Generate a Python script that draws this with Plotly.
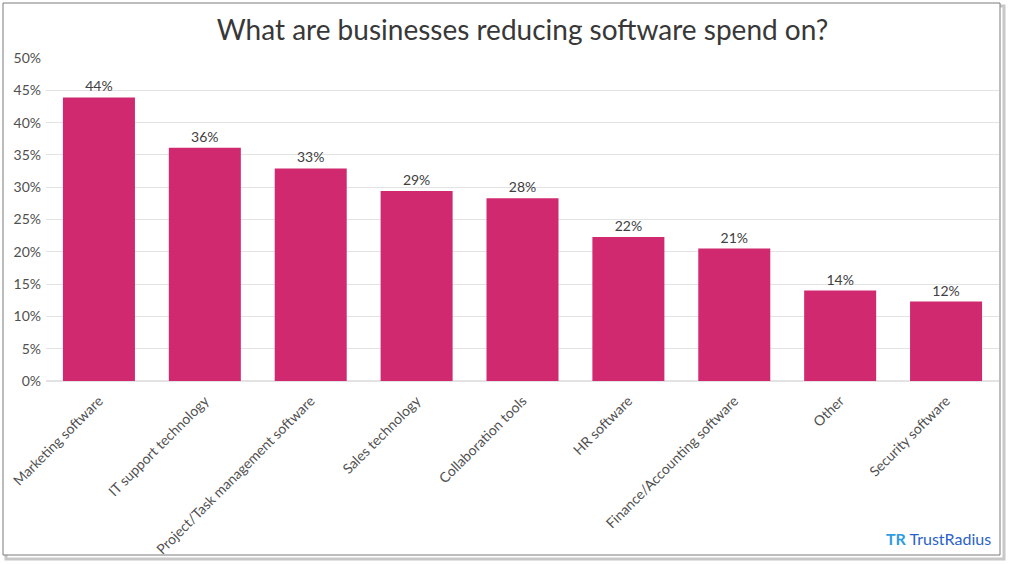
import plotly.graph_objects as go

categories = ["Marketing software", "IT support technology", "Project/Task management software",
              "Sales technology", "Collaboration tools", "HR software",
              "Finance/Accounting software", "Other", "Security software"]
values = [43.9, 36.1, 32.9, 29.4, 28.3, 22.3, 20.5, 14.0, 12.3]
labels = ["44%", "36%", "33%", "29%", "28%", "22%", "21%", "14%", "12%"]
tick_vals = [0, 5, 10, 15, 20, 25, 30, 35, 40, 45, 50]
tick_text = ["0%", "5%", "10%", "15%", "20%", "25%", "30%", "35%", "40%", "45%", "50%"]

W, H = 1009, 564
L, R, T, B = 46, 10, 58, 183
pw, ph = W - L - R, H - T - B

def px(x):
    return (x - L) / pw

def py(y):
    return (H - B - y) / ph

fig = go.Figure()
fig.add_trace(go.Bar(
    x=categories, y=values, text=labels, textposition="outside",
    marker=dict(color="#d0296f", line=dict(width=0)),
    textfont=dict(family="Lato", size=14, color="#404040"),
    cliponaxis=False,
))

fig.update_layout(
    width=W, height=H,
    margin=dict(l=L, r=R, t=T, b=B, autoexpand=False),
    paper_bgcolor="white", plot_bgcolor="white",
    bargap=0.32,
    showlegend=False,
    title=dict(text="What are businesses reducing software spend on?",
               x=0.5, xref="paper", xanchor="center", y=1 - 30 / H, yanchor="middle",
               font=dict(family="Lato", size=28, color="#383838")),
    xaxis=dict(tickangle=-45, tickfont=dict(family="Lato", size=14, color="#505050"),
               showgrid=False, showline=False, ticks="", ticklabelstandoff=8, automargin=False),
    yaxis=dict(range=[0, 50], tickvals=tick_vals, ticktext=tick_text,
               tickfont=dict(family="Lato", size=14, color="#505050"),
               gridcolor="#e3e3e3", gridwidth=1, zeroline=True, zerolinecolor="#e3e3e3",
               showline=False, ticks="", ticklabelstandoff=4, automargin=False),
    font=dict(family="Lato"),
)

# frame with shadow
fig.add_shape(type="rect", xref="paper", yref="paper",
              x0=px(6), x1=px(1004), y0=py(6), y1=py(559),
              line=dict(color="#c8c8c8", width=3), layer="below")
fig.add_shape(type="rect", xref="paper", yref="paper",
              x0=px(3), x1=px(1000), y0=py(3), y1=py(555),
              line=dict(color="#7a7a7a", width=1), fillcolor="white", layer="below")

# logo
fig.add_annotation(xref="paper", yref="paper", x=px(993), y=py(538), xanchor="right", yanchor="middle",
                   text="<b><span style='color:#2f9be0'>TR</span></b> TrustRadius", showarrow=False,
                   font=dict(family="Lato", size=16, color="#2a62c9"))

fig.write_html("out.html", config={"displayModeBar": False},
               post_script="document.body.style.margin='0';document.body.style.overflow='hidden';")
